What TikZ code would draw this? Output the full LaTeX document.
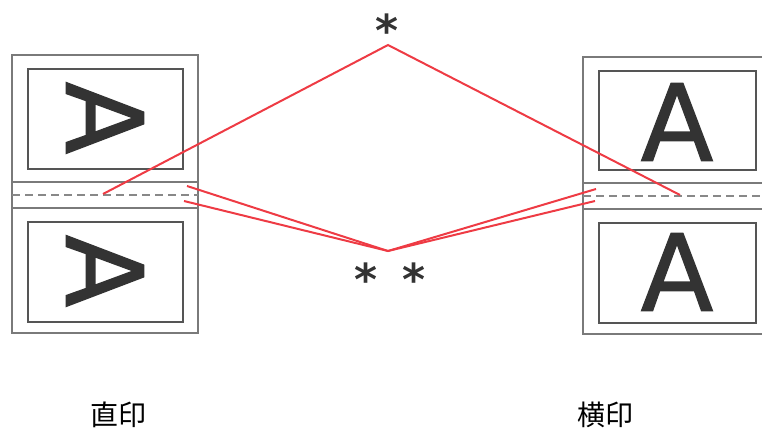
\documentclass[tikz,border=0pt]{standalone}
\usepackage{fontspec}
\setmainfont{Liberation Sans}
\newfontfamily\letterfont[FakeBold=1.2]{DejaVu Sans}
\newfontfamily\starfont{DejaVu Sans}
\newfontfamily\cjk{Noto Sans CJK JP}
\definecolor{redline}{HTML}{EE3B44}
\definecolor{frame}{HTML}{7A7A7A}
\definecolor{inner}{HTML}{555555}
\definecolor{letter}{HTML}{333333}
\definecolor{dash}{HTML}{888888}
\tikzset{
  outerframe/.style={draw=frame, line width=2pt},
  innerframe/.style={draw=inner, line width=1.6pt},
  gutter/.style={draw=frame, line width=1.4pt},
  fold/.style={draw=dash, line width=2.4pt, dash pattern=on 8pt off 5pt},
  conn/.style={draw=redline, line width=2pt},
  bigA/.style={font=\letterfont\fontsize{106}{106}\selectfont, text=letter, inner sep=0pt},
  star/.style={font=\starfont\bfseries\fontsize{44}{44}\selectfont, text=letter, inner sep=0pt},
  caption/.style={font=\cjk\fontsize{28}{28}\selectfont, text=black, inner sep=0pt}
}
\begin{document}
\begin{tikzpicture}[x=1pt,y=-1pt]
\useasboundingbox (0,0) rectangle (762,433);
% left page
\draw[outerframe] (12,55) rectangle (198,333);
\draw[innerframe] (28,69) rectangle (183,169);
\draw[innerframe] (28,222) rectangle (183,322);
\draw[gutter] (12,182) -- (198,182);
\draw[gutter] (12,208) -- (198,208);
\draw[fold] (12,195) -- (198,195);
\node[bigA, rotate=-90] (LA1) at (105,118) {A};
\node[bigA, rotate=-90] (LA2) at (105,271) {A};
% right page
\draw[outerframe] (583,57) rectangle (772,334);
\draw[innerframe] (599,71) rectangle (756,170);
\draw[innerframe] (599,223) rectangle (756,323);
\draw[gutter] (583,183) -- (772,183);
\draw[gutter] (583,209) -- (772,209);
\draw[fold] (583,196) -- (772,196);
\node[bigA] (RA1) at (677,122) {A};
\node[bigA] (RA2) at (677,272) {A};
% connectors
\coordinate (top) at (388,45);
\coordinate (bot) at (388,251);
\coordinate (Lf) at (103,194);
\coordinate (Rf) at (680,195);
\coordinate (L1) at (187,186);
\coordinate (L2) at (184,201);
\coordinate (R1) at (596,189);
\coordinate (R2) at (595,201);
\draw[conn] (Lf) -- (top) -- (Rf);
\draw[conn] (L1) -- (bot) -- (R1);
\draw[conn] (L2) -- (bot) -- (R2);
% asterisks
\node[star] (s1) at (387,30) {*};
\node[star] (s2) at (366,279) {*};
\node[star] (s3) at (414,279) {*};
% captions
\node[caption] (c1) at (118,415) {直印};
\node[caption] (c2) at (605,415) {横印};
\end{tikzpicture}
\end{document}
